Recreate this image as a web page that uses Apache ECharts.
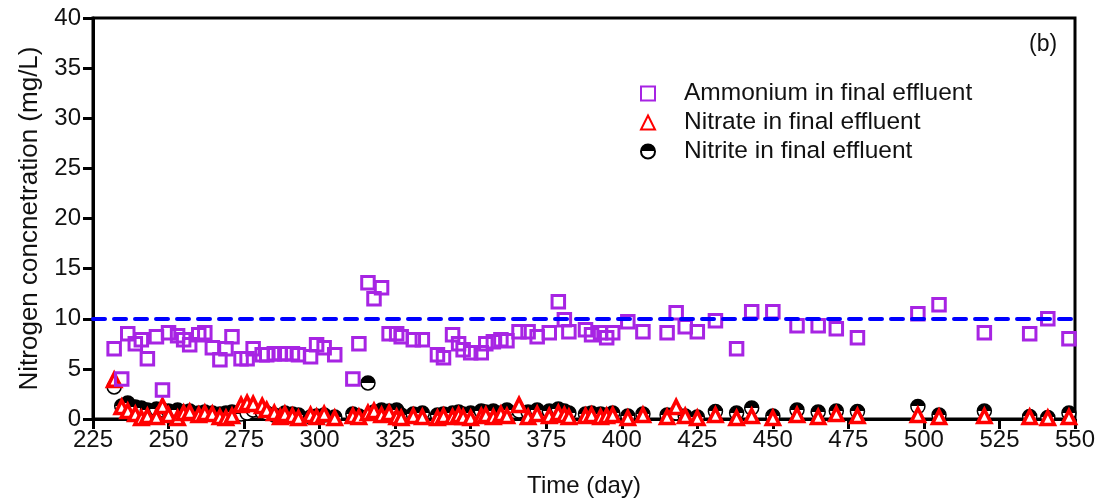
<!DOCTYPE html>
<html>
<head>
<meta charset="utf-8">
<script src="https://cdn.jsdelivr.net/npm/echarts@6/dist/echarts.min.js"></script>
<style>html,body{margin:0;padding:0;background:#fff;}#c{width:1113px;height:503px;}</style>
</head>
<body>
<div id="c"></div>
<script>
var days = [232,234.5,236.5,239,241,243,246,248,250,253,255,257,260,262,264.5,267,269,271,274,276,278,281,282.5,285,287,288.5,291,293,297,299,301.5,305,311,313,316,318,320.5,323,325.5,327,331,334,339,341,344,346,347.5,350,353.5,355,357.5,360,362,366,369,372,376,379,381,382.5,388,390,393,395,397,402,407,415,418,421,425,431,438,443,450,458,465,471,478,498,505,520,535,541,548];
var ammonium = [7.0,4.0,8.5,7.5,7.9,6.0,8.2,2.9,8.6,8.3,7.9,7.4,8.4,8.6,7.1,5.9,7.0,8.2,6.0,6.0,7.0,6.4,6.4,6.5,6.5,6.5,6.5,6.4,6.2,7.4,7.1,6.4,4.0,7.5,13.6,12.0,13.1,8.5,8.5,8.2,7.9,7.9,6.4,6.1,8.4,7.5,6.9,6.6,6.6,7.5,7.7,7.9,7.8,8.7,8.7,8.2,8.6,11.7,9.9,8.7,8.9,8.4,8.6,8.1,8.6,9.7,8.7,8.6,10.6,9.2,8.7,9.8,7.0,10.7,10.7,9.3,9.3,9.0,8.1,10.5,11.4,8.6,8.5,10.0,8.0];
var nitrate = [3.9,1.2,0.8,0.5,0.1,0.3,0.2,1.3,0.4,0.1,0.6,0.7,0.4,0.6,0.5,0.2,0.1,0.3,1.4,1.6,1.5,1.3,0.9,0.6,0.2,0.5,0.3,0.1,0.4,0.2,0.5,0.1,0.3,0.2,0.6,0.8,0.4,0.6,0.2,0.1,0.3,0.2,0.1,0.3,0.2,0.4,0.2,0.1,0.3,0.4,0.2,0.5,0.3,1.4,0.2,0.5,0.3,0.6,0.4,0.2,0.3,0.4,0.2,0.3,0.4,0.1,0.4,0.2,1.2,0.3,0.1,0.4,0.1,0.3,0.1,0.4,0.2,0.5,0.3,0.4,0.2,0.3,0.2,0.1,0.2];
var nitrite = [3.2,1.3,1.6,1.2,1.1,0.9,1.0,0.9,0.8,0.9,0.7,0.8,0.6,0.7,0.6,0.5,0.6,0.7,0.5,0.6,0.9,0.7,0.6,0.4,0.3,0.6,0.5,0.4,0.2,0.3,0.4,0.2,0.5,0.3,3.6,0.7,0.9,0.8,0.9,0.4,0.5,0.6,0.4,0.5,0.6,0.7,0.5,0.6,0.8,0.7,0.8,0.6,0.9,0.8,0.7,0.9,0.8,1.0,0.8,0.6,0.5,0.6,0.5,0.4,0.6,0.3,0.5,0.4,0.6,0.3,0.2,0.75,0.6,1.1,0.3,0.9,0.7,0.8,0.75,1.25,0.4,0.8,0.25,0.15,0.6];
var limitValue = 10;
var xTicks = {min:225, max:550, interval:25};
var yTicks = {min:0, max:40, interval:5};

function pairs(vals){ return days.map(function(d,i){ return [d, vals[i]]; }); }

var font = 'Liberation Sans, Arial, sans-serif';
var txt = '#111';
var chart = echarts.init(document.getElementById('c'), null, {renderer:'canvas'});
chart.setOption({
  animation:false,
  backgroundColor:'#fff',
  grid:{left:93, right:38, top:18, bottom:82, show:true, borderColor:'#000', borderWidth:3, backgroundColor:'transparent'},
  xAxis:{type:'value', min:xTicks.min, max:xTicks.max, interval:xTicks.interval,
    name:'Time (day)', nameLocation:'middle', nameGap:55,
    nameTextStyle:{fontFamily:font, fontSize:24, color:txt},
    axisLine:{lineStyle:{color:'#000', width:3}},
    axisTick:{show:true, inside:false, length:10, lineStyle:{color:'#000', width:3}},
    axisLabel:{fontFamily:font, fontSize:24, color:txt, margin:9},
    splitLine:{show:false}},
  yAxis:{type:'value', min:yTicks.min, max:yTicks.max, interval:yTicks.interval,
    name:'Nitrogen concnetration (mg/L)', nameLocation:'middle', nameGap:50,
    nameTextStyle:{fontFamily:font, fontSize:26, color:txt},
    axisLine:{show:true, lineStyle:{color:'#000', width:3}},
    axisTick:{show:true, inside:false, length:10, lineStyle:{color:'#000', width:3}},
    axisLabel:{fontFamily:font, fontSize:24, color:txt, margin:12},
    splitLine:{show:false}},
  legend:{orient:'vertical', left:635, top:76, itemWidth:14, itemHeight:14, itemGap:4,
    data:['Ammonium in final effluent','Nitrate in final effluent','Nitrite in final effluent'],
    textStyle:{fontFamily:font, fontSize:24.5, color:txt, padding:[0,0,0,24]}},
  graphic:[{type:'text', left:1029, top:33, style:{text:'(b)', fontFamily:font, fontSize:23, fill:txt}}],
  series:[
    {name:'Nitrite in final effluent', type:'scatter', symbol:'circle', symbolSize:14, data:pairs(nitrite),
      itemStyle:{color:{type:'linear', x:0, y:0, x2:0, y2:1, colorStops:[{offset:0,color:'#000'},{offset:0.5,color:'#000'},{offset:0.5,color:'#fff'},{offset:1,color:'#fff'}]}, borderColor:'#000', borderWidth:1.5, opacity:1}},
    {name:'Nitrate in final effluent', type:'scatter', symbol:'triangle', symbolSize:13, data:pairs(nitrate),
      itemStyle:{color:'#fff', borderColor:'#ff0000', borderWidth:3.6, opacity:1}},
    {name:'Ammonium in final effluent', type:'scatter', symbol:'rect', symbolSize:12.5, data:pairs(ammonium),
      itemStyle:{color:'rgba(255,255,255,0)', borderColor:'#a724e3', borderWidth:3, opacity:1},
      markLine:{silent:true, symbol:'none', label:{show:false},
        lineStyle:{color:'#0000ff', width:4, type:[12,9], cap:'round'},
        data:[{yAxis:limitValue}]}}
  ]
});
</script>
</body>
</html>
